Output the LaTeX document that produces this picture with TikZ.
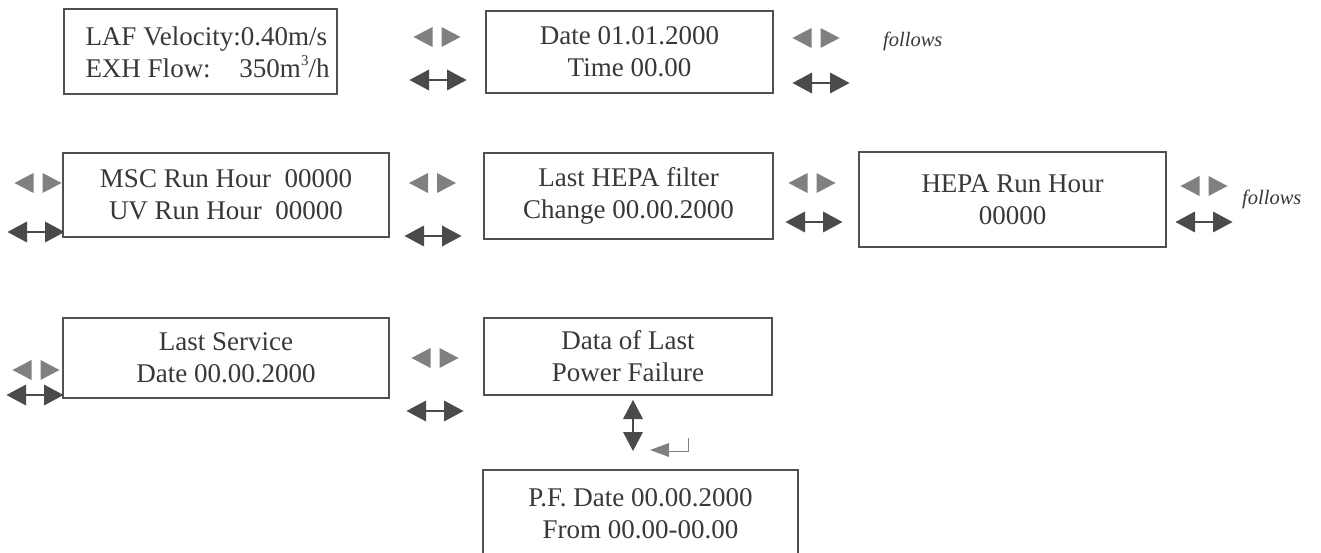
\documentclass[tikz,border=0pt]{standalone}
\usepackage{fontspec}
\setmainfont{Liberation Serif}
\definecolor{boxcol}{HTML}{505050}
\definecolor{txtcol}{HTML}{383838}
\definecolor{pairfill}{HTML}{808080}
\definecolor{dblfill}{HTML}{4A4A4A}
\newcommand{\mainsize}{\fontsize{27}{32}\selectfont}
\newcommand{\smallsup}[1]{\raisebox{0.42em}{\fontsize{15}{15}\selectfont #1}}
\begin{document}
\begin{tikzpicture}[x=1pt,y=-1pt,
  box/.style={draw=boxcol, line width=1.3pt, rectangle, inner sep=0pt, text=txtcol, font=\mainsize, align=center},
  txt/.style={inner sep=0pt, text=txtcol, font=\mainsize, align=center},
  fol/.style={inner sep=0pt, text=txtcol, font=\fontsize{20.5}{22}\selectfont\itshape, anchor=base west},
  keypair/.pic={
    \fill[pairfill] (-4.5,-10) -- (-4.5,10) -- (-23.5,0) -- cycle;
    \fill[pairfill] (4.5,-10) -- (4.5,10) -- (23.5,0) -- cycle;
  },
  dblkey/.pic={
    \draw[dblfill, line width=1.4pt] (-10,0) -- (10,0);
    \fill[dblfill] (-28.5,0) -- (-9,-10.5) -- (-9,10.5) -- cycle;
    \fill[dblfill] (28.5,0) -- (9,-10.5) -- (9,10.5) -- cycle;
  }]
\useasboundingbox[fill=white] (0,0) rectangle (1321,553);

% boxes
\node[box, minimum width=273pt, minimum height=85pt] (b1) at (200.5,51.5) {};
\node[txt, align=left] (t1) at (207.5,52) {LAF Velocity:0.40m/s\\\makebox[244pt][l]{EXH Flow:\hfill 350m\smallsup{3}/h}};
\node[box, minimum width=287pt, minimum height=82pt] (b2) at (629.5,52) {Date 01.01.2000\\Time 00.00};
\node[box, minimum width=326pt, minimum height=84pt] (b3) at (226,195) {MSC Run Hour\ \ 00000\\UV Run Hour\ \ 00000};
\node[box, minimum width=289pt, minimum height=86pt] (b4) at (628.5,196) {Last HEPA filter\\Change 00.00.2000};
\node[box, minimum width=307pt, minimum height=95pt] (b5) at (1012.5,199.5) {HEPA Run Hour\\00000};
\node[box, minimum width=326pt, minimum height=80pt] (b6) at (226,358) {Last Service\\Date 00.00.2000};
\node[box, minimum width=288pt, minimum height=77pt] (b7) at (628,356.5) {Data of Last\\Power Failure};
\node[box, minimum width=315pt, minimum height=110pt] (b8) at (640.5,525) {};
\node[txt] (t8) at (640.5,514) {P.F. Date 00.00.2000\\From 00.00-00.00};

% follows labels
\node[fol] (f1) at (883,47) {follows};
\node[fol] (f2) at (1242,205) {follows};

% key symbols row 1
\pic (p1) at (437,37) {keypair};
\pic (d1) at (438,80) {dblkey};
\pic (p2) at (816,38) {keypair};
\pic (d2) at (821,83) {dblkey};
% row 2
\pic (p3) at (38,183) {keypair};
\pic (d3) at (36,232) {dblkey};
\pic (p4) at (432.5,183) {keypair};
\pic (d4) at (433,236) {dblkey};
\pic (p5) at (812,183) {keypair};
\pic (d5) at (814,222) {dblkey};
\pic (p6) at (1204,186) {keypair};
\pic (d6) at (1204,222) {dblkey};
% row 3
\pic (p7) at (36,370) {keypair};
\pic (d7) at (35,395) {dblkey};
\pic (p8) at (435,358) {keypair};
\pic (d8) at (435,411) {dblkey};

% vertical double arrow
\draw[dblfill, line width=1.4pt] (633,418) -- (633,434);
\fill[dblfill] (633,400) -- (623,419) -- (643,419) -- cycle;
\fill[dblfill] (633,451) -- (623,432) -- (643,432) -- cycle;

% enter symbol
\fill[pairfill] (650,450) -- (669,443) -- (669,457) -- cycle;
\draw[pairfill, line width=1pt] (668,451) -- (688,451) -- (688,438);
\end{tikzpicture}
\end{document}
